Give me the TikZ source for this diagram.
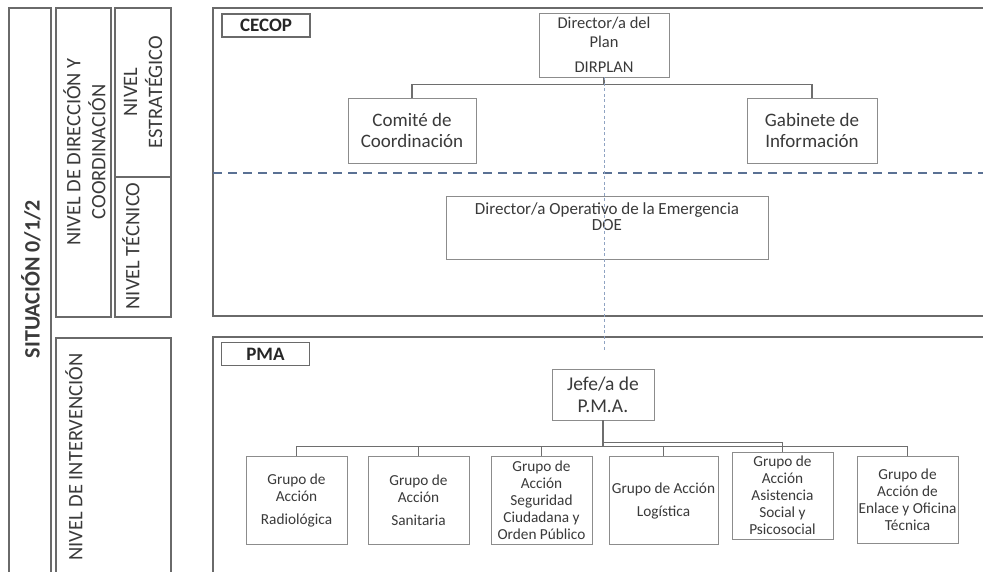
\documentclass[tikz,border=0pt]{standalone}
\usepackage{fontspec}
\setmainfont{Carlito}
\usetikzlibrary{shadows}
\definecolor{txtgray}{HTML}{3A3A3A}
\definecolor{boxgray}{HTML}{8C8C8C}
\definecolor{framegray}{HTML}{6A6A6A}
\definecolor{splitblue}{HTML}{5A7194}
\definecolor{guideblue}{HTML}{8FA3C2}
\definecolor{linkgray}{HTML}{6E6E6E}

\begin{document}
\begin{tikzpicture}
		[x=1pt,y=-1pt,
		 box/.style={draw=boxgray,line width=0.8pt,fill=white,inner sep=0pt,align=center,text=txtgray,
			drop shadow={shadow xshift=0.9pt,shadow yshift=-0.9pt,fill=black!30}},
		 grp/.style={box,minimum width=101pt,minimum height=88pt,font=\fontsize{15.3}{17}\selectfont},
		 tag/.style={draw=framegray,line width=1.4pt,inner sep=0pt,minimum width=88pt,minimum height=23pt,
			text=black!85,font=\bfseries\fontsize{19}{22}\selectfont},
		 levellabel/.style={rotate=90,align=center,text=txtgray,inner sep=0pt,font=\fontsize{20.5}{25}\selectfont},
		 panel/.style={draw=framegray,line width=1.3pt},
		 link/.style={draw=linkgray,line width=1.4pt},
		 bus/.style={to path={(\tikztostart.south) -- ++(0,#1) -| (\tikztotarget)}}]

		\useasboundingbox (0,0) rectangle (983,571);
		\clip (0,0) rectangle (983,571);

		% left columns
		\draw[panel] (9,8) rectangle (51,590);
		\draw[panel] (56,8) rectangle (111,317);
		\draw[panel] (115,8) rectangle (171,317);
		\draw[panel] (115,177) -- (171,177);
		\draw[panel] (56,338) rectangle (171,590);

		\node[levellabel,font=\bfseries\fontsize{22}{26}\selectfont] (situ) at (31,279) {SITUACIÓN 0/1/2};
		\node[levellabel] (direc) at (84.5,152) {NIVEL DE DIRECCIÓN Y\\COORDINACIÓN};
		\node[levellabel] (estra) at (143,92) {NIVEL\\ESTRATÉGICO};
		\node[levellabel] (tecn) at (131,246) {NIVEL TÉCNICO};
		\node[levellabel,anchor=west] (interv) at (74,561) {NIVEL DE INTERVENCIÓN};

		% CECOP and PMA frames
		\draw[panel] (990,8) -| (213,316) -- (990,316);
		\draw[panel] (990,337) -| (213,590);
		\draw[splitblue,line width=2.6pt,dash pattern=on 9pt off 6pt] (213,173) -- (983,173);

		\node[tag] (cecop) at (266,25.5) {CECOP};
		\node[tag] (pma) at (265.5,354) {PMA};

		% CECOP
		\node[box,minimum width=128pt,minimum height=65pt,font=\fontsize{19}{21}\selectfont] (comite) at (412,130.5) {Comité de\\Coordinación};
		\node[box,minimum width=130pt,minimum height=65pt,font=\fontsize{19}{21}\selectfont] (gabinete) at (812,130.5) {Gabinete de\\Información};

		\node[box,minimum width=130pt,minimum height=64pt,font=\fontsize{16.5}{19}\selectfont] (dirplan) at (604,45) {Director/a del\\Plan\\[6pt]DIRPLAN}
			edge[link,bus=7]	(comite.north)
			edge[link,bus=7]	(gabinete.north)
		;

		\node[box,minimum width=322pt,minimum height=63pt,font=\fontsize{17}{16}\selectfont] (doe) at (607,227.5) {Director/a Operativo de la Emergencia\\DOE\\[6pt]\mbox{}};

		\coordinate (guideend) at (604,350);
		\draw[guideblue,line width=0.8pt,dash pattern=on 3pt off 2.5pt] (dirplan.south) -- (guideend);

		% PMA
		\node[grp] (radio) at (296.5,500.5) {Grupo de\\Acción\\[6pt]Radiológica};
		\node[grp] (sanit) at (418.5,500.5) {Grupo de\\Acción\\[6pt]Sanitaria};
		\node[grp] (segur) at (541.5,500.5) {Grupo de\\Acción\\Seguridad\\Ciudadana y\\Orden Público};
		\node[grp,minimum width=109pt] (logis) at (663.5,500.5) {Grupo de Acción\\[6pt]Logística};
		\node[grp,minimum height=87pt] (asist) at (782.5,495.5) {Grupo de\\Acción\\Asistencia\\Social y\\Psicosocial};
		\node[grp,minimum height=87pt] (enlace) at (907.5,499.5) {Grupo de\\Acción de\\Enlace y Oficina\\Técnica};

		\node[box,minimum width=102pt,minimum height=51pt,font=\fontsize{19.5}{22}\selectfont] (jefe) at (603,394.5) {Jefe/a de\\P.M.A.}
			edge[link,bus=26]	(radio.north)
			edge[link,bus=26]	(sanit.north)
			edge[link,bus=26]	(segur.north)
			edge[link,bus=26]	(logis.north)
			edge[link,bus=26]	(enlace.north)
			edge[link,bus=22]	(asist.north)
		;

	\end{tikzpicture}
\end{document}
